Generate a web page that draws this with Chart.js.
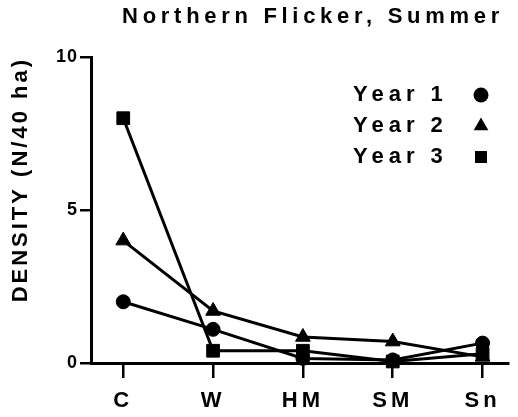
<!DOCTYPE html>
<html>
<head>
<meta charset="utf-8">
<script src="https://cdn.jsdelivr.net/npm/chart.js@4/dist/chart.umd.min.js"></script>
<style>
  html, body { margin: 0; padding: 0; background: #fff; }
  canvas { display: block; }
</style>
</head>
<body>
<canvas id="c" width="518" height="417"></canvas>
<script>
// ---- data ----
const categories = ['C', 'W', 'HM', 'SM', 'Sn'];
const year1 = [2.0, 1.1, 0.15, 0.1, 0.65];
const year2 = [4.0, 1.7, 0.85, 0.7, 0.2];
const year3 = [8.0, 0.4, 0.4, 0.05, 0.3];
const seriesLabels = ['Year 1', 'Year 2', 'Year 3'];
const yTicks = [0, 5, 10];

const FONT = '"Liberation Sans", Arial, Helvetica, sans-serif';

function toPoints(arr) { return arr.map((v, i) => ({ x: i, y: v })); }

function patch(obj, method, sp) {
  if (!obj || obj['_p_' + method]) return;
  const orig = obj[method];
  obj[method] = function (...a) {
    const c = this.ctx;
    const prev = c.letterSpacing;
    c.letterSpacing = sp;
    try { return orig.apply(this, a); } finally { c.letterSpacing = prev; }
  };
  obj['_p_' + method] = true;
}

function shiftTitle(tb, dx) {
  if (!tb || tb._shifted) return;
  const orig = tb.draw;
  tb.draw = function (...a) {
    const c = this.ctx;
    c.save();
    c.translate(dx, 0);
    try { return orig.apply(this, a); } finally { c.restore(); }
  };
  tb._shifted = true;
}

const spacingPlugin = {
  id: 'spacing',
  beforeDraw(chart) {
    chart.ctx.letterSpacing = '4.7px';
    patch(chart.scales.x, 'drawLabels', '4px');
    patch(chart.scales.y, 'drawLabels', '1px');
    patch(chart.scales.y, 'drawTitle', '3px');
    shiftTitle(chart.titleBlock, 54);
  }
};

function drawMarker(ctx, style, x, y) {
  ctx.beginPath();
  if (style === 'circle') {
    ctx.arc(x, y, 7.5, 0, Math.PI * 2);
  } else if (style === 'triangle') {
    const r = 8.5;
    ctx.moveTo(x, y - r);
    ctx.lineTo(x + r * Math.sin(2 * Math.PI / 3), y - r * Math.cos(2 * Math.PI / 3));
    ctx.lineTo(x + r * Math.sin(4 * Math.PI / 3), y - r * Math.cos(4 * Math.PI / 3));
    ctx.closePath();
  } else {
    ctx.rect(x - 6, y - 6, 12, 12);
  }
  ctx.fill();
}

const legendPlugin = {
  id: 'rightLegend',
  afterDraw(chart) {
    const ctx = chart.ctx;
    ctx.save();
    ctx.font = 'bold 22px ' + FONT;
    ctx.letterSpacing = '5px';
    ctx.fillStyle = '#000';
    ctx.textBaseline = 'middle';
    ctx.textAlign = 'left';
    chart.data.datasets.forEach((ds, i) => {
      const y = 95 + i * 31;
      ctx.fillText(ds.label, 353, y);
      drawMarker(ctx, ds.pointStyle, 481, y);
    });
    ctx.restore();
  }
};

const common = {
  borderColor: '#000',
  backgroundColor: '#000',
  pointBackgroundColor: '#000',
  pointBorderColor: '#000',
  borderWidth: 3,
  pointBorderWidth: 1,
  tension: 0,
  fill: false,
  clip: false
};

new Chart(document.getElementById('c'), {
  type: 'line',
  data: {
    datasets: [
      Object.assign({}, common, { label: seriesLabels[0], data: toPoints(year1), pointStyle: 'circle', pointRadius: 7 }),
      Object.assign({}, common, { label: seriesLabels[1], data: toPoints(year2), pointStyle: 'triangle', pointRadius: 8.5 }),
      Object.assign({}, common, { label: seriesLabels[2], data: toPoints(year3), pointStyle: 'rect', pointRadius: 9 })
    ]
  },
  options: {
    responsive: false,
    animation: false,
    layout: { padding: 0 },
    plugins: {
      legend: { display: false },
      tooltip: { enabled: false },
      title: {
        display: true,
        text: 'Northern Flicker, Summer',
        color: '#000',
        align: 'center',
        font: { family: FONT, size: 22, weight: 'bold', lineHeight: 1.2 },
        padding: { top: 4, bottom: 26.6 }
      }
    },
    scales: {
      x: {
        type: 'linear',
        min: -0.359,
        max: 4.283,
        afterBuildTicks(scale) { scale.ticks = categories.map((_, i) => ({ value: i })); },
        afterFit(scale) { scale.height = 54; },
        border: { display: true, color: '#000', width: 3 },
        grid: { drawOnChartArea: false, drawTicks: true, tickLength: 15, color: '#000', lineWidth: 2.5 },
        ticks: {
          autoSkip: false, maxRotation: 0, minRotation: 0,
          color: '#000', padding: 10,
          font: { family: FONT, size: 22, weight: 'bold' },
          callback: (v) => categories[v] ?? ''
        }
      },
      y: {
        type: 'linear',
        min: 0,
        max: 10,
        afterBuildTicks(scale) { scale.ticks = yTicks.map(v => ({ value: v })); },
        afterFit(scale) { scale.width = 91; },
        border: { display: true, color: '#000', width: 3 },
        grid: { drawOnChartArea: false, drawTicks: true, tickLength: 11, color: '#000', lineWidth: 2.5 },
        ticks: {
          color: '#000', padding: 2,
          font: { family: FONT, size: 18, weight: 'bold' }
        },
        title: {
          display: true,
          text: 'DENSITY (N/40 ha)',
          color: '#000',
          align: 'end',
          font: { family: FONT, size: 22, weight: 'bold', lineHeight: 1.2 },
          padding: { top: 8, bottom: 0 }
        }
      }
    }
  },
  plugins: [spacingPlugin, legendPlugin]
});
</script>
</body>
</html>
